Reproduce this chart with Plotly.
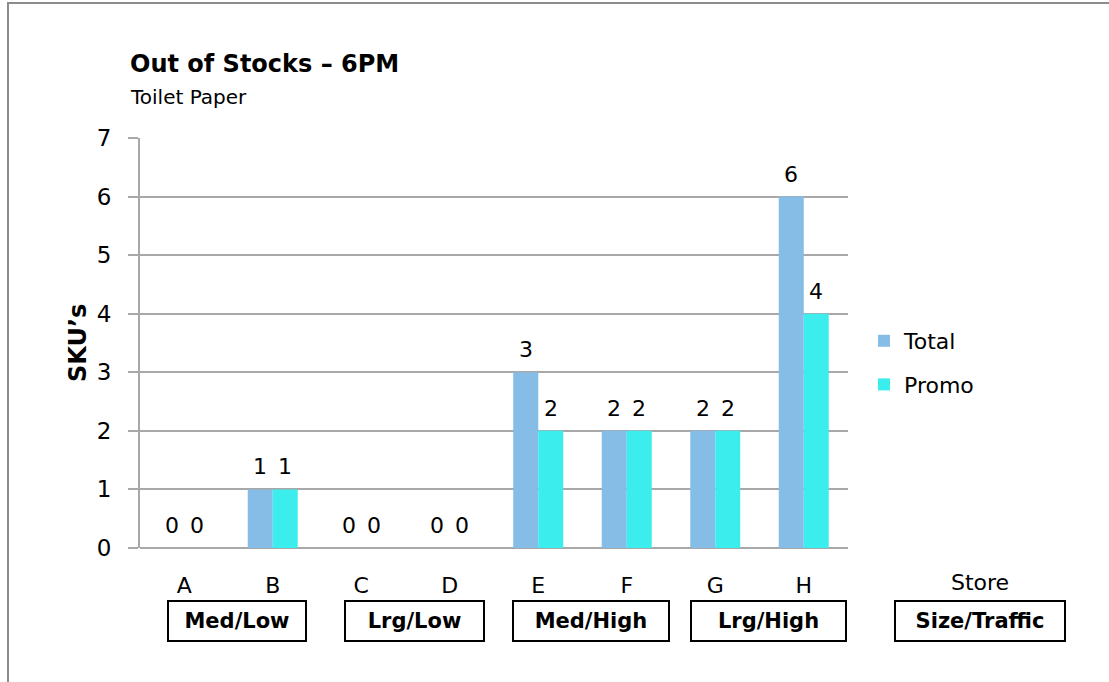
import plotly.graph_objects as go

# Out-of-stock counts per store at 6PM
stores = ["A", "B", "C", "D", "E", "F", "G", "H"]
total = [0, 1, 0, 0, 3, 2, 2, 6]
promo = [0, 1, 0, 0, 2, 2, 2, 4]
segments = ["Med/Low", "Lrg/Low", "Med/High", "Lrg/High"]
y_ticks = [0, 1, 2, 3, 4, 5, 6, 7]

FONT = "DejaVu Sans"
W, H = 1109, 682
L, R, T, B = 140, 261, 138, 134
plot_w = W - L - R
plot_h = H - T - B
BAR_OFFSET = 12.5  # half a bar width, in pixels


def px_to_paper_y(py):
    return (H - B - py) / plot_h


def px_to_paper_x(px):
    return (px - L) / plot_w


fig = go.Figure()
fig.add_trace(go.Bar(
    x=stores, y=total, name="Total",
    marker=dict(color="#86BDE6", line=dict(width=0)),
    legendgroup="t",
))
fig.add_trace(go.Bar(
    x=stores, y=promo, name="Promo",
    marker=dict(color="#3CEDED", line=dict(width=0)),
    legendgroup="p",
))

annotations = [
    dict(text="<b>Out of Stocks – 6PM</b>", xref="paper", yref="paper",
         x=px_to_paper_x(128), y=px_to_paper_y(64), xanchor="left", yanchor="middle",
         showarrow=False, font=dict(family=FONT, size=24, color="black")),
    dict(text="Toilet Paper", xref="paper", yref="paper",
         x=px_to_paper_x(128), y=px_to_paper_y(97), xanchor="left", yanchor="middle",
         showarrow=False, font=dict(family=FONT, size=20, color="black")),
    dict(text="<b>SKU’s</b>", xref="paper", yref="paper",
         x=px_to_paper_x(78), y=px_to_paper_y(343), xanchor="center", yanchor="middle",
         textangle=-90, showarrow=False, font=dict(family=FONT, size=24, color="black")),
    dict(text="Store", xref="paper", yref="paper",
         x=px_to_paper_x(980), y=px_to_paper_y(582), xanchor="center", yanchor="middle",
         showarrow=False, font=dict(family=FONT, size=22, color="black")),
]

# Value labels above each bar
for s, tv, pv in zip(stores, total, promo):
    for v, shift in ((tv, -BAR_OFFSET), (pv, BAR_OFFSET)):
        annotations.append(dict(
            text=str(v), x=s, y=v, xref="x", yref="y", xshift=shift, yshift=8,
            xanchor="center", yanchor="bottom", showarrow=False,
            font=dict(family=FONT, size=22, color="black"),
        ))

# Group boxes under each pair of stores
box_widths = [134, 135, 152, 151]
for i, seg in enumerate(segments):
    center = 2 * i + 0.5 + 0.1
    annotations.append(dict(
        text=f"<b>{seg}</b>", xref="x", yref="paper", x=center, y=px_to_paper_y(621),
        xanchor="center", yanchor="middle", showarrow=False, width=box_widths[i],
        height=36, bordercolor="black", borderwidth=2, borderpad=1,
        font=dict(family=FONT, size=21, color="black"),
    ))
annotations.append(dict(
    text="<b>Size/Traffic</b>", xref="paper", yref="paper", x=px_to_paper_x(980),
    y=px_to_paper_y(621), xanchor="center", yanchor="middle", showarrow=False,
    width=166, height=36, bordercolor="black", borderwidth=2, borderpad=1,
    font=dict(family=FONT, size=21, color="black"),
))

fig.update_layout(
    width=W, height=H,
    margin=dict(l=L, r=R, t=T, b=B, pad=0),
    paper_bgcolor="white", plot_bgcolor="white",
    barmode="group", bargap=0.435, bargroupgap=0,
    font=dict(family=FONT, color="black"),
    annotations=annotations,
    showlegend=True,
    legend=dict(
        x=px_to_paper_x(864), y=px_to_paper_y(363), xanchor="left", yanchor="middle",
        font=dict(family=FONT, size=22, color="black"),
        tracegroupgap=12, bgcolor="rgba(0,0,0,0)",
    ),
    shapes=[dict(type="rect", xref="paper", yref="paper",
                 x0=px_to_paper_x(8), x1=px_to_paper_x(1200),
                 y0=px_to_paper_y(760), y1=px_to_paper_y(3),
                 line=dict(color="#8C8C8C", width=2), layer="below")],
)

fig.update_xaxes(
    type="category", range=[-0.5, 7.5],
    showgrid=False, showline=False, ticks="",
    ticklabelstandoff=22,
    tickfont=dict(family=FONT, size=22, color="black"),
    zeroline=False,
)
fig.update_yaxes(
    range=[0, 7], tickvals=y_ticks,
    showgrid=True, gridcolor="#A8A8A8", gridwidth=2,
    showline=True, linecolor="#A8A8A8", linewidth=2,
    ticks="outside", ticklen=10, tickcolor="#A8A8A8", tickwidth=2,
    tickfont=dict(family=FONT, size=23, color="black"),
    ticklabelstandoff=12,
    zeroline=True, zerolinecolor="#A8A8A8", zerolinewidth=2,
)

fig.write_html("out.html")
